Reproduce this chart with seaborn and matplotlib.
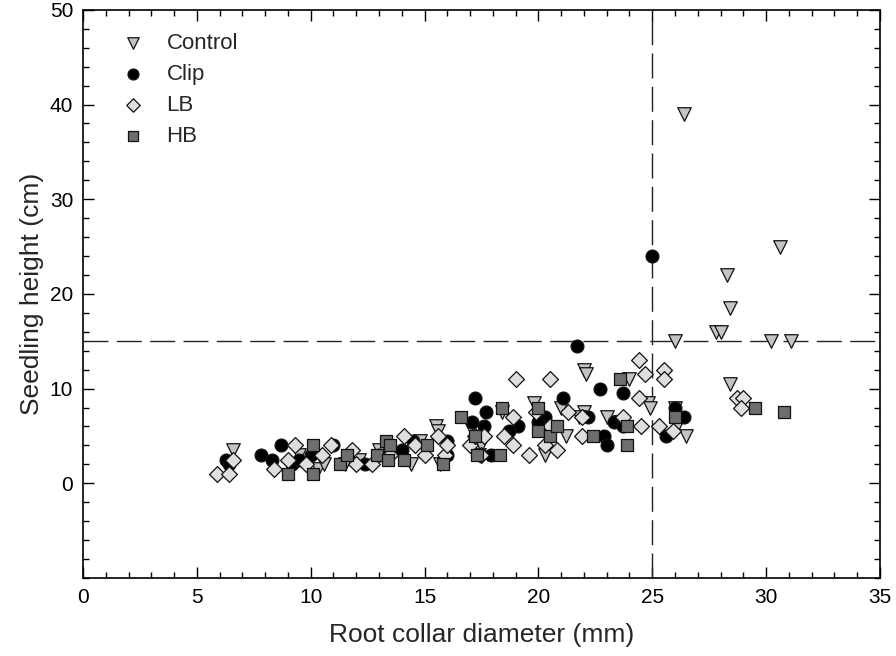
"""Seedling height vs root collar diameter by treatment."""
import matplotlib
matplotlib.use("Agg")
import matplotlib.pyplot as plt
from matplotlib.ticker import MultipleLocator
import pandas as pd
import seaborn as sns

# treatments (legend order)
TREATMENTS = ["Control", "Clip", "LB", "HB"]

control_rcd = [26.4, 30.6, 28.3, 28.4, 27.8, 28.0, 26.0, 30.2, 31.1, 28.4,
               22.0, 22.1, 24.0, 24.8, 24.9, 26.0, 26.1, 26.5, 23.0, 22.0,
               21.0, 21.2, 20.3, 19.8, 21.8, 18.4, 17.0, 17.5, 17.4, 15.5,
               15.6, 15.7, 14.4, 14.8, 10.3, 10.6, 12.1, 13.0, 6.6, 9.5,
               11.5, 23.6]
control_ht = [39, 25, 22, 18.5, 16, 16, 15, 15, 15, 10.5,
              12, 11.5, 11, 8.5, 8, 8, 6, 5, 7, 7.5,
              8, 5, 3, 8.5, 7, 7.5, 6, 4, 3, 6,
              5.5, 2, 2, 4.5, 1.5, 2, 2.5, 3.5, 3.5, 3,
              2, 6.5]

clip_rcd = [25.0, 21.7, 22.7, 23.7, 21.1, 17.2, 17.7, 17.1, 17.6, 19.1,
            18.7, 20.3, 20.0, 22.2, 23.3, 23.7, 22.9, 23.0, 25.6, 26.0,
            26.4, 17.9, 16.0, 16.0, 14.5, 6.3, 6.4, 7.8, 8.3, 8.7,
            9.2, 9.5, 12.4, 13.0, 14.0, 11.0, 10.0]
clip_ht = [24, 14.5, 10, 9.5, 9, 9, 7.5, 6.5, 6, 6,
           5.5, 7, 6.5, 7, 6.5, 6, 5, 4, 5, 8,
           7, 3, 4.5, 3, 4.5, 2.5, 2, 3, 2.5, 4,
           2, 2.5, 2, 3, 3.5, 4, 3]

lb_rcd = [5.9, 6.4, 6.6, 8.4, 9.0, 9.3, 9.8, 10.5, 10.9, 11.8,
          12.0, 12.7, 13.5, 14.1, 14.6, 15.0, 15.6, 15.9, 16.0, 17.0,
          17.2, 17.5, 17.6, 18.5, 18.9, 19.0, 18.9, 19.6, 19.9, 20.5,
          20.3, 20.8, 20.5, 21.3, 21.9, 21.9, 23.7, 24.4, 24.4, 24.5,
          24.7, 25.5, 25.5, 25.3, 25.9, 28.7, 29.0, 28.9]
lb_ht = [1, 1, 2.5, 1.5, 2.5, 4, 2, 3, 4, 3.5,
         2, 2, 3, 5, 4, 3, 5, 3, 4, 4,
         5, 3, 5, 5, 7, 11, 4, 3, 7.5, 11,
         4, 3.5, 6, 7.5, 5, 7, 7, 13, 9, 6,
         11.5, 12, 11, 6, 5.5, 9, 9, 8]

hb_rcd = [9.0, 10.1, 10.1, 11.3, 11.6, 12.9, 13.3, 13.4, 13.5, 14.1,
          15.1, 15.8, 16.6, 17.2, 17.3, 18.3, 18.4, 20.0, 20.0, 20.5,
          20.8, 22.4, 23.6, 23.9, 23.9, 26.0, 29.5, 30.8]
hb_ht = [1, 4, 1, 2, 3, 3, 4.5, 2.5, 4, 2.5,
         4, 2, 7, 5, 3, 3, 8, 8, 5.5, 5,
         6, 5, 11, 6, 4, 7, 8, 7.5]

HEIGHT_LIMIT = 15
RCD_LIMIT = 25

sns.set_theme(style="ticks")
plt.rcParams["font.family"] = ["Liberation Sans", "DejaVu Sans"]


def build_frame() -> pd.DataFrame:
    parts = []
    for name, xs, ys in zip(TREATMENTS,
                            [control_rcd, clip_rcd, lb_rcd, hb_rcd],
                            [control_ht, clip_ht, lb_ht, hb_ht]):
        parts.append(pd.DataFrame({"rcd": xs, "height": ys, "treatment": name}))
    return pd.concat(parts, ignore_index=True)


def main() -> None:
    df = build_frame()
    fig = plt.figure(figsize=(8.96, 6.56), dpi=100)
    ax = fig.add_axes([0.0926, 0.119, 0.8895, 0.866])

    palette = {"Control": "#c4c4c4", "Clip": "#000000", "LB": "#dedede", "HB": "#6e6e6e"}
    markers = {"Control": "v", "Clip": "o", "LB": "D", "HB": "s"}
    sizes = {"Control": 95, "Clip": 85, "LB": 65, "HB": 65}

    for name in TREATMENTS:
        sub = df[df["treatment"] == name]
        sns.scatterplot(data=sub, x="rcd", y="height", ax=ax, marker=markers[name],
                        color=palette[name], edgecolor="#111111", linewidth=0.9,
                        s=sizes[name], label=name, zorder=3)

    ax.axhline(HEIGHT_LIMIT, color="#222222", lw=1.0, dashes=(18, 6), zorder=2)
    ax.axvline(RCD_LIMIT, color="#222222", lw=1.0, dashes=(18, 6), zorder=2)

    ax.set_xlim(0, 35)
    ax.set_ylim(-10, 50)
    ax.xaxis.set_major_locator(MultipleLocator(5))
    ax.xaxis.set_minor_locator(MultipleLocator(1))
    ax.yaxis.set_minor_locator(MultipleLocator(2))
    ax.set_yticks([0, 10, 20, 30, 40, 50])
    ax.tick_params(which="both", direction="in", top=True, right=True,
                   labelsize=15, colors="black", pad=7)
    ax.tick_params(which="major", length=8, width=1)
    ax.tick_params(which="minor", length=4, width=1)
    for side in ax.spines.values():
        side.set_linewidth(1.2)
        side.set_color("black")

    ax.set_xlabel("Root collar diameter (mm)", fontsize=19, labelpad=12)
    ax.set_ylabel("Seedling height (cm)", fontsize=19, labelpad=4)

    ax.legend(loc="upper left", bbox_to_anchor=(0.01, 0.995), frameon=False,
              fontsize=16, handletextpad=0.5, labelspacing=0.45, markerscale=0.85)

    fig.savefig("out.png", dpi=100)
    plt.close(fig)


if __name__ == "__main__":
    main()
